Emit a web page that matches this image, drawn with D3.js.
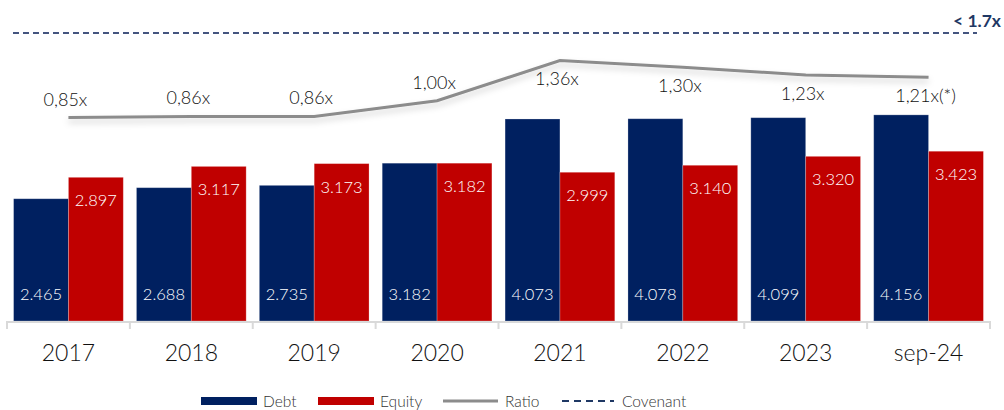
<!DOCTYPE html>
<html>
<head>
<meta charset="utf-8">
<script src="https://cdn.jsdelivr.net/npm/d3@7"></script>
<style>
  body { margin: 0; background: #fff; }
  svg { display: block; font-family: Lato, "Open Sans", sans-serif; font-weight: 300; }
</style>
</head>
<body>
<script>
// data
var categories = ["2017", "2018", "2019", "2020", "2021", "2022", "2023", "sep-24"];
var debt   = [2465, 2688, 2735, 3182, 4073, 4078, 4099, 4156];
var equity = [2897, 3117, 3173, 3182, 2999, 3140, 3320, 3423];
var ratio  = [0.85, 0.86, 0.86, 1.00, 1.36, 1.30, 1.23, 1.21];
var ratioLabels = ["0,85x", "0,86x", "0,86x", "1,00x", "1,36x", "1,30x", "1,23x", "1,21x(*)"];
var covenant = 1.7;
var series = ["Debt", "Equity"];

var width = 1004, height = 410,
    baseY = 321,
    colors = { Debt: "#002060", Equity: "#c00000", Ratio: "#8c8c8c", Covenant: "#1f3864" };

var fmt = d3.format(",");
function euro(v) { return fmt(v).replace(/,/g, "."); }

var svg = d3.select("body").append("svg")
    .attr("width", width)
    .attr("height", height);

var defs = svg.append("defs");
var shadow = defs.append("filter").attr("id", "shadow")
    .attr("x", "-5%").attr("y", "-50%").attr("width", "110%").attr("height", "300%");
shadow.append("feDropShadow")
    .attr("dx", 0).attr("dy", 4).attr("stdDeviation", 3)
    .attr("flood-color", "#000").attr("flood-opacity", 0.18);

var x0 = d3.scaleBand().domain(categories).range([7, 990]);
var x1 = d3.scaleBand().domain(series).range([0, x0.bandwidth()]).paddingOuter(0.12);
var y = d3.scaleLinear().domain([0, 6472]).range([baseY, 0]);
var r = d3.scaleLinear().domain([0, 1.7]).range([212.8, 22.4]);

var rows = categories.map(function(c, i) {
  return { cat: c, Debt: debt[i], Equity: equity[i], ratio: ratio[i], label: ratioLabels[i] };
});

// bars
var groups = svg.append("g").selectAll("g")
    .data(rows)
  .enter().append("g")
    .attr("transform", function(d) { return "translate(" + x0(d.cat) + ",0)"; });

groups.selectAll("rect")
    .data(function(d) { return series.map(function(k) { return { key: k, value: d[k] }; }); })
  .enter().append("rect")
    .attr("x", function(d) { return x1(d.key); })
    .attr("y", function(d) { return y(d.value); })
    .attr("width", x1.bandwidth())
    .attr("height", function(d) { return baseY - y(d.value); })
    .attr("fill", function(d) { return colors[d.key]; })
    .attr("stroke", "rgba(255,255,255,0.3)")
    .attr("stroke-width", 0.8);

// debt labels near the bottom, equity labels near the top
groups.append("text")
    .attr("x", x1("Debt") + x1.bandwidth() / 2)
    .attr("y", baseY - 21)
    .attr("text-anchor", "middle")
    .attr("fill", "#fff")
    .attr("font-size", 16.5)
    .text(function(d) { return euro(d.Debt); });

groups.append("text")
    .attr("x", x1("Equity") + x1.bandwidth() / 2)
    .attr("y", function(d) { return y(d.Equity) + 29; })
    .attr("text-anchor", "middle")
    .attr("fill", "#fff")
    .attr("font-size", 16.5)
    .text(function(d) { return euro(d.Equity); });

// axis
var axis = svg.append("g");
axis.append("line")
    .attr("x1", x0.range()[0]).attr("x2", x0.range()[1])
    .attr("y1", baseY + 1).attr("y2", baseY + 1)
    .attr("stroke", "#d9d9d9").attr("stroke-width", 2);
axis.selectAll(".tick")
    .data(categories.map(function(c) { return x0(c); }).concat([x0.range()[1]]))
  .enter().append("line")
    .attr("x1", function(d) { return d; }).attr("x2", function(d) { return d; })
    .attr("y1", baseY).attr("y2", baseY + 8)
    .attr("stroke", "#d9d9d9").attr("stroke-width", 2);
axis.selectAll("text")
    .data(categories)
  .enter().append("text")
    .attr("x", function(d) { return x0(d) + x0.bandwidth() / 2; })
    .attr("y", 361)
    .attr("text-anchor", "middle")
    .attr("font-size", 23)
    .attr("fill", "#111")
    .text(function(d) { return d; });

// covenant line
svg.append("line")
    .attr("x1", 13).attr("x2", 977)
    .attr("y1", 33).attr("y2", 33)
    .attr("stroke", "#44557f").attr("stroke-width", 2)
    .attr("stroke-dasharray", "6,4");
svg.append("text")
    .attr("x", 1001).attr("y", 27)
    .attr("text-anchor", "end")
    .attr("font-size", 17.5).attr("font-weight", "bold")
    .attr("fill", colors.Covenant)
    .text("< " + covenant + "x");

// ratio line
var line = d3.line()
    .x(function(d) { return x0(d.cat) + x0.bandwidth() / 2; })
    .y(function(d) { return r(d.ratio); });

svg.append("path")
    .datum(rows)
    .attr("d", line)
    .attr("fill", "none")
    .attr("stroke", colors.Ratio)
    .attr("stroke-width", 3)
    .attr("filter", "url(#shadow)");

svg.append("g").selectAll("text")
    .data(rows)
  .enter().append("text")
    .attr("x", function(d) { return x0(d.cat) + x0.bandwidth() / 2 - 3; })
    .attr("y", function(d) { return d.ratio > 1 ? r(d.ratio) + 25 : r(d.ratio) - 12; })
    .attr("text-anchor", "middle")
    .attr("font-size", 18)
    .attr("fill", "#111")
    .text(function(d) { return d.label; });

// legend
var legend = svg.append("g").attr("font-size", 15.5).attr("fill", "#333");
legend.append("rect").attr("x", 201).attr("y", 397).attr("width", 56).attr("height", 8).attr("fill", colors.Debt);
legend.append("text").attr("x", 263).attr("y", 407).text("Debt");
legend.append("rect").attr("x", 318).attr("y", 397).attr("width", 56).attr("height", 8).attr("fill", colors.Equity);
legend.append("text").attr("x", 380).attr("y", 407).text("Equity");
legend.append("line").attr("x1", 443).attr("x2", 498).attr("y1", 401).attr("y2", 401)
    .attr("stroke", colors.Ratio).attr("stroke-width", 3);
legend.append("text").attr("x", 505).attr("y", 407).text("Ratio");
legend.append("line").attr("x1", 562).attr("x2", 614).attr("y1", 401).attr("y2", 401)
    .attr("stroke", colors.Covenant).attr("stroke-width", 2).attr("stroke-dasharray", "7,5");
legend.append("text").attr("x", 622).attr("y", 407).text("Covenant");
</script>
</body>
</html>
